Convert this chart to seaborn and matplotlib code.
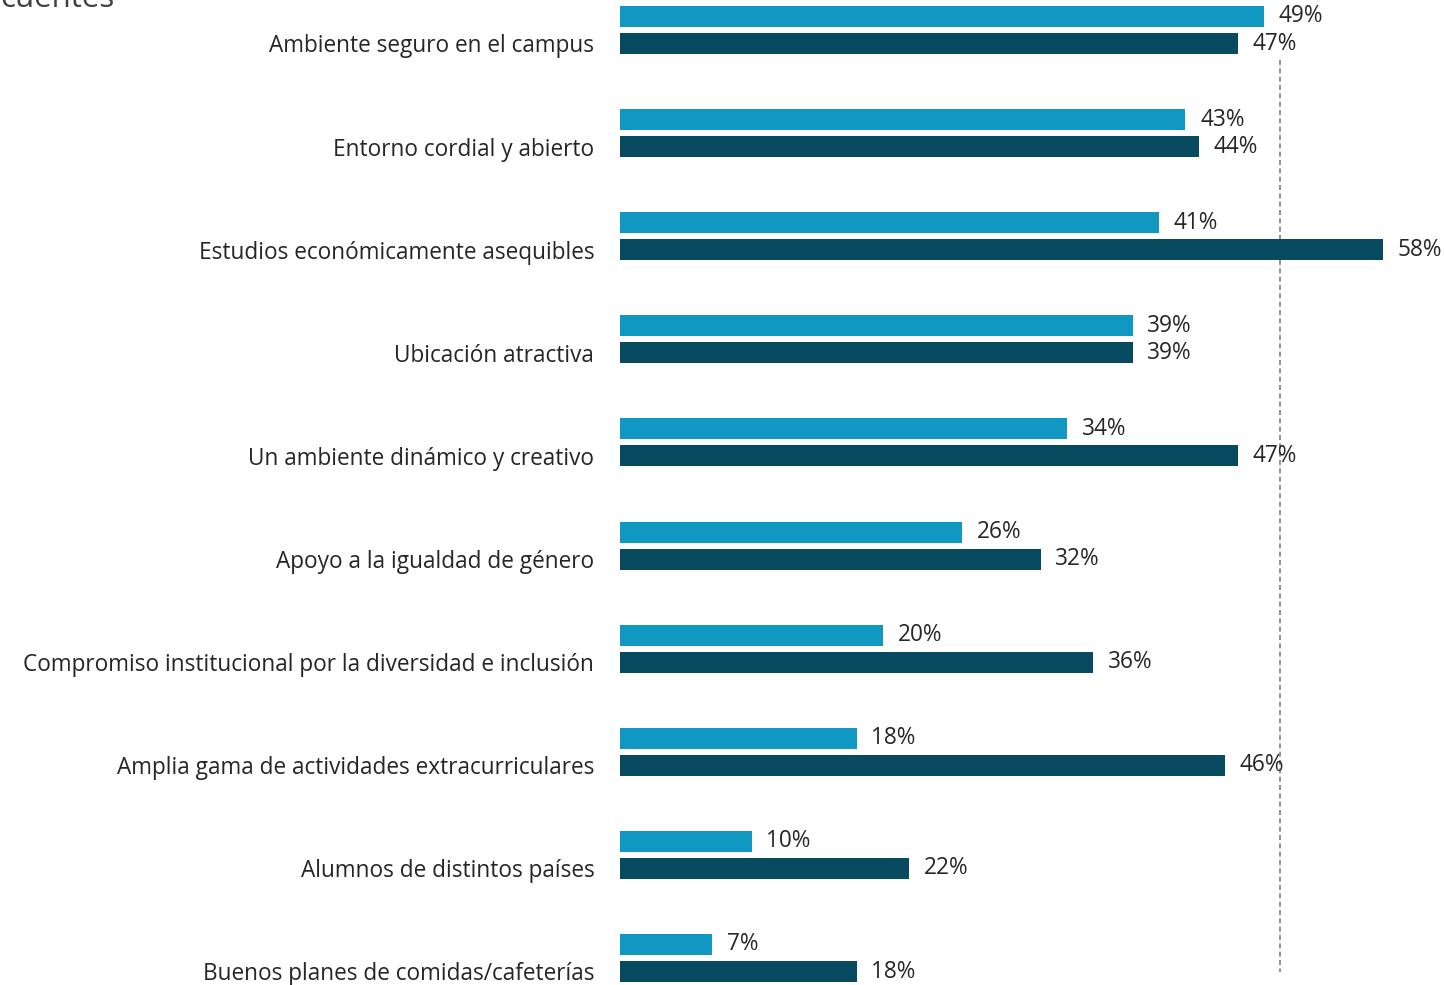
import numpy as np
import pandas as pd
import seaborn as sns
import matplotlib.pyplot as plt

categorias = [
    "Ambiente seguro en el campus",
    "Entorno cordial y abierto",
    "Estudios económicamente asequibles",
    "Ubicación atractiva",
    "Un ambiente dinámico y creativo",
    "Apoyo a la igualdad de género",
    "Compromiso institucional por la diversidad e inclusión",
    "Amplia gama de actividades extracurriculares",
    "Alumnos de distintos países",
    "Buenos planes de comidas/cafeterías",
]
grupo_claro = [49, 43, 41, 39, 34, 26, 20, 18, 10, 7]
grupo_oscuro = [47, 44, 58, 39, 47, 32, 36, 46, 22, 18]
series = ["Grupo 1", "Grupo 2"]
linea_ref = 50.2
titulo = "cuentes"

df = pd.DataFrame({
    "categoria": categorias * 2,
    "valor": grupo_claro + grupo_oscuro,
    "serie": [series[0]] * len(categorias) + [series[1]] * len(categorias),
})

sns.set_style("white")
plt.rcParams['font.family'] = ['Open Sans', 'DejaVu Sans']

fig = plt.figure(figsize=(14.44, 9.85), dpi=100)
ax = fig.add_axes([620 / 1444, 0, 1 - 620 / 1444, 1])

sns.barplot(data=df, x="valor", y="categoria", hue="serie", order=categorias,
            palette=["#1097C2", "#084A60"], saturation=1, width=0.524, gap=0.22,
            linewidth=0, orient="h", legend=False, ax=ax)

for cont in ax.containers:
    ax.bar_label(cont, fmt="%d%%", padding=10.5, fontsize=16.3, color="#262626")

n = len(categorias)
ax.plot([linea_ref, linea_ref], [0.29, n - 0.86], color="#7f7f7f",
        linestyle=(0, (3, 2)), linewidth=1.2, zorder=0)

ax.set_xlim(0, 824 / 13.15)
ax.set_ylim(n - 1 + 27 / 103.1, -30 / 103.1)
ax.set_yticks(np.arange(n) + 0.13)
ax.set_yticklabels(categorias, fontsize=16.3, color="#262626")
ax.tick_params(axis="y", length=0, pad=18.5)
ax.set_xticks([])
ax.set_xlabel("")
ax.set_ylabel("")
sns.despine(ax=ax, left=True, bottom=True)

fig.text(0.0, 1 - 7 / 985, titulo, fontsize=22.5, color="#404040",
         ha="left", va="baseline")

fig.savefig("out.png", dpi=100)
